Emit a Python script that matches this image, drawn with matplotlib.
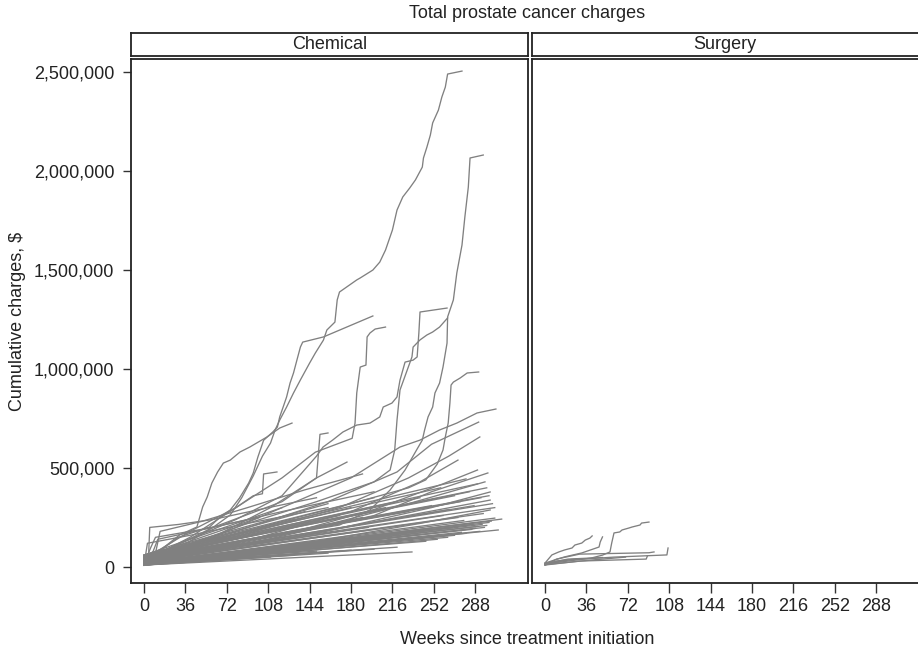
import matplotlib
matplotlib.use("Agg")
import matplotlib.pyplot as plt

plt.rcParams['font.family'] = ['Liberation Sans', 'DejaVu Sans']

# axis ticks
week_ticks = [0, 36, 72, 108, 144, 180, 216, 252, 288]
charge_ticks = [0, 500000, 1000000, 1500000, 2000000, 2500000]
panel_names = ["Chemical", "Surgery"]

# --- Chemical: the tall trajectories, (weeks, charges in $1000) ---
chem_tall_weeks = [
    [0, 20, 60, 75, 85, 95, 103, 110, 114, 118, 124, 130, 136, 144, 149, 156, 159, 166, 168, 170,
     185, 188, 199, 205, 210, 216, 220, 225, 231, 236, 242, 243, 246, 249, 251, 256, 259, 262, 264, 276.5],
    [0, 92, 170, 196.5, 214, 227, 237, 242, 244, 247, 251, 253, 257, 260, 263.5, 264, 269, 272,
     276.5, 279, 282, 283.5, 295],
    [0, 30, 57, 66, 75, 83, 91, 95, 99, 104, 112, 116, 118, 121, 124, 127, 130, 133, 136, 138, 156, 199],
    [0, 40, 80, 120, 149, 181, 183.5, 185, 188, 193, 194, 196.5, 201, 210],
    [0, 31, 46, 51, 55, 59, 64, 69, 75, 83.5, 92, 107, 118, 128.7],
    [0, 80, 120, 150, 155.7, 164, 173, 185, 196.5, 205, 208, 215.6, 220, 222.6, 227, 234, 237.5, 239, 240, 263.5],
    [0, 90, 150, 200, 214, 218, 220, 222.6, 233, 234, 240, 246, 251, 257, 264],
    [0, 100, 180, 230, 245, 255, 260, 262, 264.5, 266, 267, 269, 275, 281, 291],
    [0, 60, 120, 180, 222.6, 240, 257, 272, 289.6, 306],
    [0, 60, 110, 150, 153, 160],
]
chem_tall_usd = [
    [10, 60, 200, 263, 350, 460, 560, 626, 692, 742, 808, 879, 945, 1030, 1081, 1146, 1197, 1237, 1349, 1389,
     1450, 1460, 1500, 1540, 1601, 1702, 1803, 1869, 1914, 1955, 2020, 2066, 2121, 2182, 2243, 2308, 2374, 2424, 2490, 2505],
    [25, 136, 212, 288, 389, 490, 591, 641, 692, 758, 808, 879, 929, 1010, 1131, 1263, 1349, 1485,
     1626, 1768, 1919, 2066, 2081],
    [25, 150, 202, 252, 288, 348, 424, 475, 555, 640, 682, 707, 758, 808, 859, 929, 980, 1046, 1111, 1136, 1162, 1268],
    [30, 150, 300, 450, 580, 650, 727, 879, 1010, 1020, 1162, 1182, 1202, 1212],
    [20, 162, 202, 303, 354, 424, 480, 525, 540, 581, 606, 657, 702, 727],
    [40, 240, 360, 560, 606, 641, 682, 717, 727, 758, 808, 828, 859, 944, 1035, 1045, 1061, 1182, 1288, 1308],
    [35, 220, 330, 430, 490, 591, 742, 894, 1061, 1111, 1147, 1172, 1187, 1212, 1258],
    [40, 200, 320, 400, 440, 520, 591, 657, 727, 828, 919, 934, 955, 980, 985],
    [30, 150, 300, 450, 606, 641, 692, 727, 778, 798],
    [20, 150, 300, 450, 670, 677],
]

# --- Chemical: middle trajectories ---
chem_mid_weeks = [
    [0, 80, 160, 220, 250, 291],
    [0, 90, 170, 230, 265, 292],
    [0, 100, 180, 240, 273],
    [0, 120, 200, 260, 290],
    [0, 100, 200, 250, 299],
    [0, 150, 230, 296.5],
    [0, 150, 250, 301],
    [0, 120, 220, 301],
    [0, 150, 240, 301],
    [0, 60, 120, 150, 176.5],
    [0, 40, 80, 95, 103, 104, 115.6],
    [0, 4, 5, 30, 60, 100, 150],
    [0, 6, 10, 50, 100],
    [0, 8, 12, 60, 120, 200],
    [0, 3, 40, 90, 160],
    [0, 10, 14, 50, 90, 140, 190],
]
chem_mid_usd = [
    [40, 180, 330, 480, 620, 732],
    [30, 170, 300, 450, 560, 657],
    [25, 150, 280, 430, 540],
    [30, 160, 290, 420, 490],
    [20, 130, 260, 380, 475],
    [35, 200, 320, 430],
    [25, 170, 300, 379],
    [30, 140, 250, 338],
    [20, 130, 220, 288],
    [30, 200, 330, 450, 530],
    [40, 180, 300, 360, 370, 470, 480],
    [20, 60, 200, 215, 240, 290, 350],
    [15, 100, 150, 190, 250],
    [20, 80, 140, 200, 280, 380],
    [10, 120, 160, 220, 300],
    [25, 70, 180, 230, 300, 390, 470],
]

# --- Chemical: the dense lower bundle (last week, start $1000, end $1000) ---
chem_low_end_week = [311, 305, 308, 302, 300, 298, 296, 294, 292, 290, 288, 286, 285, 283, 280, 278, 276, 273,
                     270, 268, 264, 260, 255, 250, 245, 240, 233, 225, 220, 210, 200, 195, 180, 170, 160, 150,
                     140, 130, 120, 110, 100, 90, 80, 70, 60, 50, 40, 30, 20,
                     305, 303, 300, 298, 295, 293, 290, 287, 283, 280, 275, 270, 265, 258, 250, 240, 230, 220,
                     210, 200, 190, 180, 170, 160, 150, 140, 130, 120, 100]
chem_low_start = [15, 20, 10, 25, 18, 12, 10, 15, 12, 20, 8, 22, 14, 16, 10, 20, 15, 25,
                  12, 18, 18, 30, 10, 22, 20, 14, 10, 25, 15, 20, 12, 30, 20, 15, 10, 25,
                  20, 15, 30, 10, 20, 20, 25, 15, 30, 10, 20, 20, 15,
                  40, 35, 45, 50, 30, 40, 55, 35, 45, 60, 40, 50, 35, 60, 45, 50, 40, 55,
                  45, 60, 40, 50, 45, 60, 40, 55, 45, 60, 50]
chem_low_end = [242, 247, 187, 232, 225, 210, 200, 215, 180, 205, 195, 222, 190, 212, 170, 235, 175, 250,
                160, 198, 150, 260, 140, 190, 130, 165, 76, 210, 100, 150, 90, 200, 85, 120, 70, 80,
                110, 60, 150, 50, 90, 55, 120, 40, 100, 35, 80, 35, 60,
                300, 320, 360, 400, 270, 350, 420, 310, 380, 445, 330, 360, 290, 400, 310, 350, 280, 330,
                300, 350, 250, 300, 260, 320, 230, 280, 240, 300, 250]

# --- Surgery trajectories ---
surg_weeks = [
    [0, 20, 40, 50, 56.5, 58, 60, 65, 67, 73, 75.7, 82.6, 84, 90.4],
    [0, 6, 12, 17, 23.5, 26, 32, 35, 39, 41],
    [0, 17, 32, 47, 48, 50],
    [0, 10, 30, 90.4, 94.8],
    [0, 20, 60, 106, 107],
    [0, 30, 88, 89],
    [0, 40, 70],
    [0, 20, 50],
    [0, 10, 30],
]
surg_usd = [
    [15, 30, 45, 60, 76, 121, 172, 177, 187, 197, 202, 212, 222, 227],
    [20, 61, 76, 86, 96, 111, 121, 136, 146, 157],
    [20, 51, 71, 101, 126, 152],
    [10, 40, 65, 72, 76],
    [15, 35, 50, 61, 96],
    [10, 30, 40, 55],
    [12, 35, 50],
    [18, 40, 48],
    [10, 30, 42],
]

LINE = "#808080"
LW = 0.95
INK = "#222222"
W, H = 918, 651

fig = plt.figure(figsize=(9.18, 6.51), dpi=100)

def px_box(x0, y0, x1, y1):
    return [x0 / W, 1 - y1 / H, (x1 - x0) / W, (y1 - y0) / H]

ax_c = fig.add_axes(px_box(131, 59, 528, 583))
ax_s = fig.add_axes(px_box(532, 59, 929, 583))

for wk, usd in zip(chem_tall_weeks, chem_tall_usd):
    ax_c.plot(wk, [v * 1000 for v in usd], color=LINE, lw=LW)
for wk, usd in zip(chem_mid_weeks, chem_mid_usd):
    ax_c.plot(wk, [v * 1000 for v in usd], color=LINE, lw=LW)
for w_end, v0, v1 in zip(chem_low_end_week, chem_low_start, chem_low_end):
    ax_c.plot([0, w_end], [v0 * 1000, v1 * 1000], color=LINE, lw=LW)
for wk, usd in zip(surg_weeks, surg_usd):
    ax_s.plot(wk, [v * 1000 for v in usd], color=LINE, lw=LW)

for ax in (ax_c, ax_s):
    ax.set_xlim(-11.3, 333.9)
    ax.set_ylim(-80800, 2566000)
    ax.set_xticks(week_ticks)
    ax.set_xticklabels([str(t) for t in week_ticks])
    for sp in ax.spines.values():
        sp.set_linewidth(1.3)
        sp.set_color(INK)
    ax.tick_params(axis="x", length=7, width=1, color="#333333", labelsize=13,
                   labelcolor=INK, pad=4)

ax_c.set_yticks(charge_ticks)
ax_c.set_yticklabels([f"{t:,}" for t in charge_ticks])
ax_c.tick_params(axis="y", length=6, width=1, color="#333333", labelsize=13,
                 labelcolor=INK, pad=6)
ax_s.set_yticks([])

# strip headers
strip_x = [(131, 528), (532, 929)]
strip_cx = [0.5, ((532 + 918) / 2 - 532) / (929 - 532)]
for name, (x0, x1), cx in zip(panel_names, strip_x, strip_cx):
    st = fig.add_axes(px_box(x0, 33, x1, 55.5))
    st.set_xticks([])
    st.set_yticks([])
    for sp in st.spines.values():
        sp.set_linewidth(1.3)
        sp.set_color(INK)
    st.text(cx, 0.47, name, ha="center", va="center",
            fontsize=13, color=INK, transform=st.transAxes)

fig.text(527 / W, 1 - 13 / H, "Total prostate cancer charges", ha="center", va="center",
         fontsize=13, color=INK)
fig.text(527 / W, 1 - 640 / H, "Weeks since treatment initiation", ha="center", va="center",
         fontsize=13, color=INK)
fig.text(18 / W, 1 - 321 / H, "Cumulative charges, $", ha="center", va="center",
         rotation=90, fontsize=13, color=INK)

fig.savefig("out.png", dpi=100)
